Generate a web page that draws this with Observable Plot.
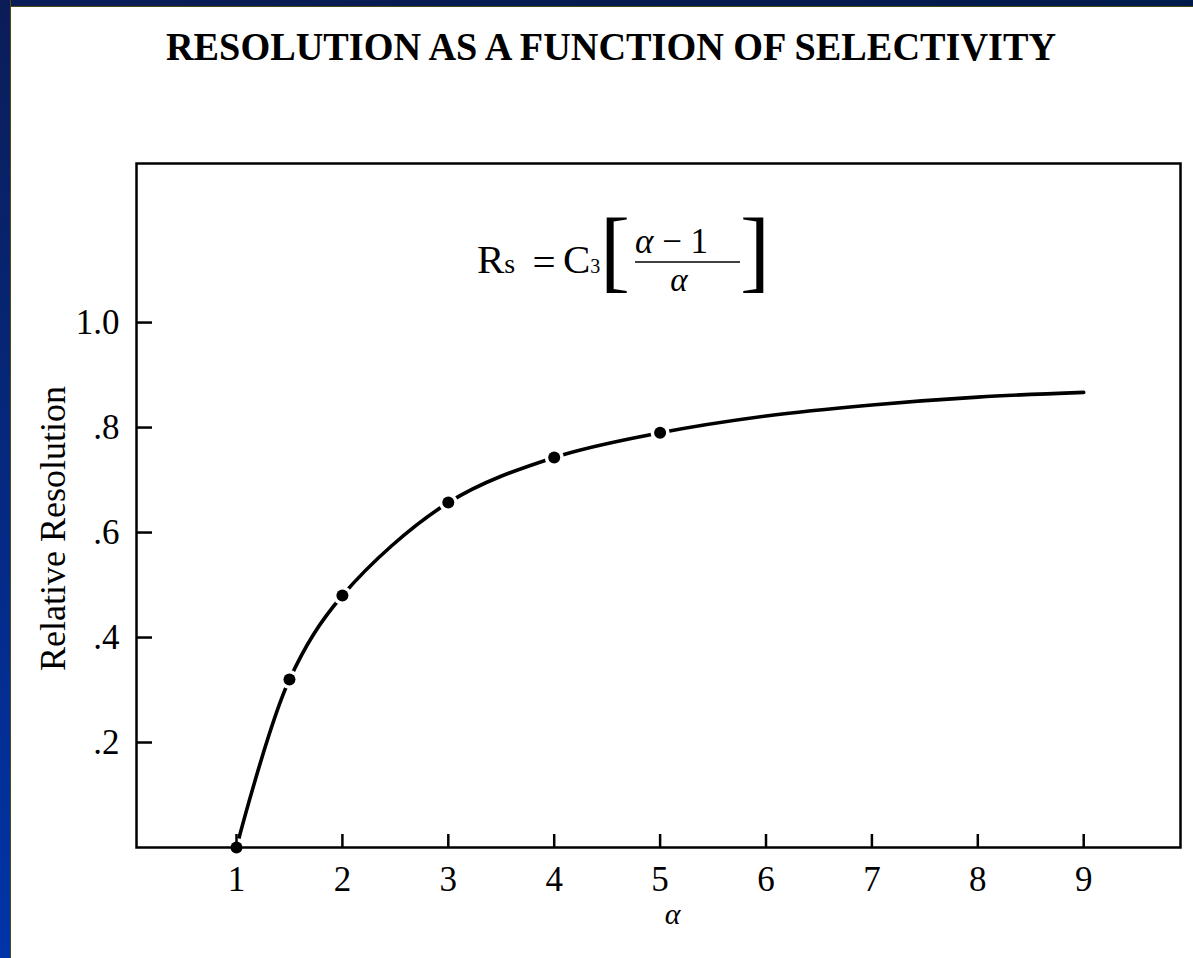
<!DOCTYPE html>
<html>
<head>
<meta charset="utf-8">
<script src="https://cdn.jsdelivr.net/npm/d3@7"></script>
<script src="https://cdn.jsdelivr.net/npm/@observablehq/plot@0.6"></script>
<style>
  body { margin: 0; background: #fff; }
  #page { position: relative; width: 1193px; height: 958px; overflow: hidden; background: #fff; font-family: "Liberation Serif", serif; color: #000; }
  #bandTop { position: absolute; left: 0; top: 0; width: 1193px; height: 6px; background: linear-gradient(to right, #0b1d57, #001a4a); border-bottom: 1px solid #4d4a14; z-index: 3; }
  #bandLeft { position: absolute; left: 0; top: 0; width: 10px; height: 958px; background: linear-gradient(to bottom, #0b1d57, #0034a8); border-right: 1px solid #4d4a14; z-index: 4; }
  #title { position: absolute; left: 0; top: 0; }
  #chart { position: absolute; left: 0; top: 110px; }
  #formula { position: absolute; left: 0; top: 0; pointer-events: none; }
</style>
</head>
<body>
<div id="page">
  <svg id="title" width="1193" height="110">
    <text x="611" y="60" text-anchor="middle" font-family="Liberation Serif" font-weight="bold" font-size="39" textLength="890" lengthAdjust="spacingAndGlyphs">RESOLUTION AS A FUNCTION OF SELECTIVITY</text>
  </svg>
  <div id="chart"></div>
  <svg id="formula" width="1193" height="958" font-family="Liberation Serif">
    <text x="477" y="273" font-size="41">R<tspan font-size="28">s</tspan></text>
    <text x="544" y="276" font-size="41" text-anchor="middle">=</text>
    <text x="563" y="273" font-size="41">C<tspan font-size="20">3</tspan></text>
    <text x="600" y="281" font-size="90">[</text>
    <text x="635" y="253" font-size="35"><tspan font-style="italic">α</tspan> − 1</text>
    <line x1="635" x2="740" y1="262" y2="262" stroke="#000" stroke-width="1.6"></line>
    <text x="679" y="291" font-size="33" font-style="italic" text-anchor="middle">α</text>
    <text x="740" y="281" font-size="90">]</text>
  </svg>
  <div id="bandTop"></div>
  <div id="bandLeft"></div>
</div>
<script>
// Relative resolution Rs as a function of the selectivity factor α
const xTicks = [1, 2, 3, 4, 5, 6, 7, 8, 9];
const yTicks = [0.2, 0.4, 0.6, 0.8, 1.0];
const yTickLabels = [".2", ".4", ".6", ".8", "1.0"];

// smooth curve through the plotted points
const curveAlpha = [1, 1.5, 2, 3, 4, 5, 6, 7, 8, 9];
const curveRs = [0, 0.32, 0.48, 0.657, 0.743, 0.79, 0.822, 0.843, 0.858, 0.867];

// highlighted points on the curve
const markerAlpha = [1, 1.5, 2, 3, 4, 5];
const markerRs = [0, 0.32, 0.48, 0.657, 0.743, 0.79];

const curve = curveAlpha.map((a, i) => ({alpha: a, rs: curveRs[i]}));
const markers = markerAlpha.map((a, i) => ({alpha: a, rs: markerRs[i]}));

const font = "Liberation Serif";

const chart = Plot.plot({
  width: 1193,
  height: 848,
  marginLeft: 136,
  marginRight: 13,
  marginTop: 53,
  marginBottom: 111,
  style: {fontFamily: font, color: "#000", background: "transparent", overflow: "visible"},
  x: {domain: [0.0557, 9.914]},
  y: {domain: [0, 1.303]},
  marks: [
    Plot.line(curve, {x: "alpha", y: "rs", curve: "catmull-rom", stroke: "#000", strokeWidth: 3.6}),
    // white halos break the line around each point
    Plot.dot(markers, {x: "alpha", y: "rs", r: 9.5, fill: "#fff", stroke: null}),
    Plot.frame({stroke: "#000", strokeWidth: 2.5}),
    // tick labels
    Plot.axisX({ticks: xTicks, tickSize: 0, tickPadding: 19, fontSize: 35, label: null}),
    Plot.axisY({ticks: yTicks, tickSize: 0, tickPadding: 17, fontSize: 35, label: null,
      tickFormat: d => yTickLabels[yTicks.indexOf(d)]}),
    // inward-pointing tick marks
    Plot.axisX({ticks: xTicks, tickSize: -13, strokeWidth: 2.5, tickFormat: () => "", label: null}),
    Plot.axisY({ticks: yTicks, tickSize: -16, strokeWidth: 2.5, tickFormat: () => "", label: null}),
    Plot.dot(markers, {x: "alpha", y: "rs", r: 6, fill: "#000", stroke: null}),
    // axis titles
    Plot.text(["α"], {frameAnchor: "bottom", dx: 14, dy: 76, fontSize: 30, fontStyle: "italic", fill: "#000"}),
    Plot.text(["Relative Resolution"], {frameAnchor: "left", textAnchor: "middle", rotate: -90, dx: -83, dy: 23, fontSize: 36, fill: "#000"})
  ]
});
document.getElementById("chart").appendChild(chart);
</script>
</body>
</html>
